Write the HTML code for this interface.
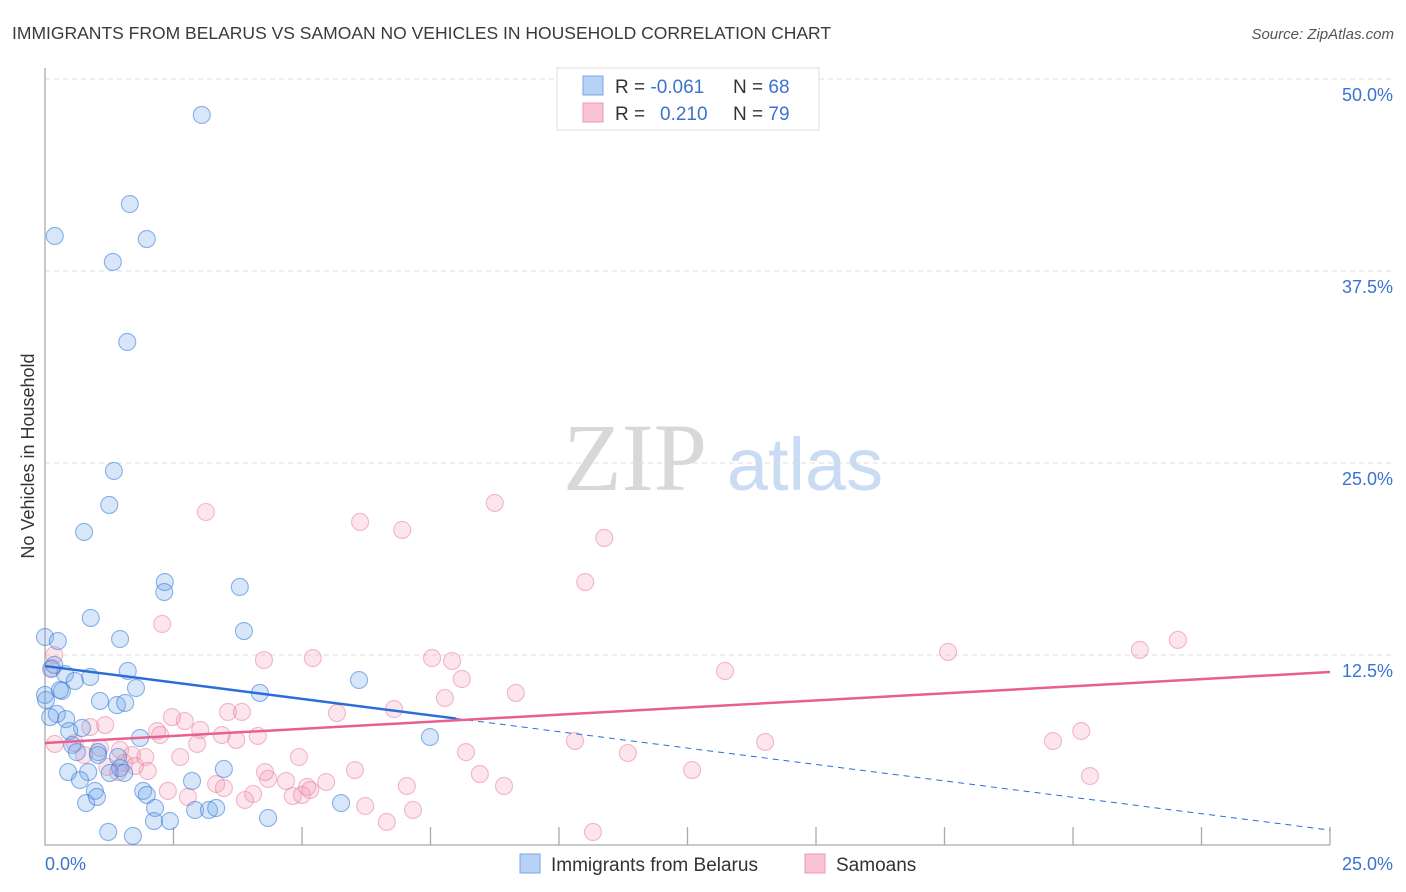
<!DOCTYPE html>
<html><head><meta charset="utf-8"><style>
body{margin:0;background:#fff;font-family:"Liberation Sans",sans-serif;}
#wrap{position:relative;width:1406px;height:892px;overflow:hidden;}
</style></head><body>
<div id="wrap">
<svg id="svg" width="1406" height="892" xmlns="http://www.w3.org/2000/svg">
<text x="12" y="39" font-size="17.5" fill="#3a3a3a">IMMIGRANTS FROM BELARUS VS SAMOAN NO VEHICLES IN HOUSEHOLD CORRELATION CHART</text>
<text x="1394" y="39" font-size="15" fill="#555" font-style="italic" text-anchor="end">Source: ZipAtlas.com</text>
<text x="34" y="456" font-size="18" fill="#333" text-anchor="middle" transform="rotate(-90 34 456)">No Vehicles in Household</text>
<g>
<text x="635" y="490" font-size="96" fill="#d8d8d8" font-family="Liberation Serif,serif" text-anchor="middle">ZIP</text>
<text x="805" y="490" font-size="74" fill="#c9dcf3" text-anchor="middle">atlas</text>
</g>
<g id="grid"></g>
<g id="axes"></g>
<g id="pts"></g>
<g id="trend"></g>
<g>
<rect x="557" y="68" width="262" height="62" fill="#fff" stroke="#ddd"/>
<rect x="583" y="76" width="20" height="19" fill="#b8d2f5" stroke="#7aa6e6"/>
<rect x="583" y="103" width="20" height="19" fill="#f8c4d4" stroke="#ee98b4"/>
<text x="615" y="93" font-size="19" fill="#333">R = <tspan fill="#3b73d0">-0.061</tspan></text>
<text x="733" y="93" font-size="19" fill="#333">N = <tspan fill="#3b73d0">68</tspan></text>
<text x="615" y="120" font-size="19" fill="#333">R = <tspan fill="#3b73d0" x="660">0.210</tspan></text>
<text x="733" y="120" font-size="19" fill="#333">N = <tspan fill="#3b73d0">79</tspan></text>
</g>
<g>
<rect x="520" y="854" width="20" height="19" fill="#b8d2f5" stroke="#7aa6e6"/>
<text x="551" y="871" font-size="19" fill="#333">Immigrants from Belarus</text>
<rect x="805" y="854" width="20" height="19" fill="#f8c4d4" stroke="#ee98b4"/>
<text x="836" y="871" font-size="19" fill="#333">Samoans</text>
</g>
</svg>
</div>
<script>
const xTicks=[0,2.5,5,7.5,10,12.5,15,17.5,20,22.5,25];
const yTicks=[12.5,25,37.5,50];
const yTickLabels=["12.5%","25.0%","37.5%","50.0%"];
const xEndLabels=["0.0%","25.0%"];
const blueX=[3.05,0.19,1.65,1.98,1.32,1.60,1.34,1.25,0.76,2.33,2.32,3.79,0.89,3.87,1.46,0,0.25,0.12,0.39,0.58,0.88,1.61,1.77,0.33,0,4.18,6.11,1.07,1.40,1.56,0.23,0.41,0.10,0.72,0.47,1.85,0.53,1.03,0.62,1.03,7.49,1.42,1.46,1.26,1.54,0.45,0.84,3.48,0.68,2.86,1.91,0.97,1.98,0.80,1.01,2.14,2.92,3.19,3.33,2.43,2.12,5.76,4.34,1.23,1.71,0.18,0.29,0.02];
const blueY=[47.66,39.78,41.86,39.58,38.09,32.88,24.48,22.27,20.51,17.25,16.60,16.93,14.91,14.06,13.54,13.67,13.41,11.59,11.26,10.81,11.07,11.46,10.35,10.16,9.90,10.03,10.87,9.51,9.24,9.38,8.66,8.33,8.46,7.75,7.55,7.10,6.64,6.18,6.18,5.99,7.16,5.86,5.14,4.82,4.82,4.88,4.88,5.08,4.36,4.30,3.65,3.65,3.39,2.86,3.26,2.54,2.41,2.41,2.54,1.69,1.69,2.86,1.89,0.98,0.72,11.85,10.22,9.57];
const pinkX=[3.13,6.13,6.95,8.75,10.88,10.51,2.28,4.26,5.21,7.53,7.92,8.11,7.78,9.16,13.23,17.57,21.30,22.04,0.18,0.14,6.79,5.68,3.83,3.56,2.72,2.47,2.18,1.17,0.88,3.44,3.72,4.14,2.96,2.63,1.95,1.46,1.69,1.07,0.58,0.19,8.19,4.94,6.03,8.46,8.93,11.34,10.31,12.59,14.01,19.61,20.16,20.33,2.00,1.54,1.21,1.75,4.34,4.69,5.47,5.10,4.05,3.89,4.82,5.00,3.33,3.48,2.39,2.78,7.04,6.23,7.16,6.65,10.66,1.42,0.76,2.24,3.02,4.28,5.16];
const pinkY=[21.81,21.16,20.64,22.40,20.12,17.25,14.52,12.17,12.30,12.30,12.11,10.94,9.70,10.03,11.46,12.70,12.83,13.48,12.50,11.65,8.98,8.72,8.79,8.79,8.20,8.46,7.55,7.94,7.81,7.29,6.97,7.23,6.71,5.86,5.86,6.32,5.99,6.45,6.77,6.71,6.18,5.86,5.01,4.75,3.97,6.12,6.90,5.01,6.84,6.90,7.55,4.62,4.95,5.47,5.21,5.27,4.43,4.30,4.23,3.91,3.45,3.06,3.32,3.39,4.10,3.84,3.65,3.26,3.97,2.67,2.41,1.63,0.98,4.88,5.99,7.29,7.62,4.88,3.71];
const blueTrend=[11.78,1.1];
const blueSolidEnd=8.0;
const pinkTrend=[6.77,11.39];

const X0=45,X1=1330,Y0=847,PPY=15.36;
const sx=v=>X0+(X1-X0)*v/25;
const sy=v=>Y0-v*PPY;
const NS="http://www.w3.org/2000/svg";
function mk(tag,attrs,parent){const e=document.createElementNS(NS,tag);for(const k in attrs)e.setAttribute(k,attrs[k]);parent.appendChild(e);return e;}
const grid=document.getElementById('grid'),axes=document.getElementById('axes'),pts=document.getElementById('pts'),trend=document.getElementById('trend');
yTicks.forEach((t,i)=>{
 const l=mk('line',{x1:X0,x2:1394,y1:sy(t),y2:sy(t),stroke:'#dcdcdc','stroke-dasharray':'5,4'},grid);
 
 
 const tx=mk('text',{x:1393,y:sy(t)+22,'font-size':18,fill:'#3b73d0','text-anchor':'end'},axes);
 tx.textContent=yTickLabels[i];
 
 
});
const ax=mk('path',{d:`M${X0} 68 V845 H${X1}`,fill:'none',stroke:'#aaa','stroke-width':1.3},axes);


xTicks.forEach(t=>{if(t===0)return;const tk=mk('line',{x1:sx(t),x2:sx(t),y1:827,y2:845,stroke:'#aaa','stroke-width':1.3},axes);
 
 });
const xl0=mk('text',{x:45,y:870,'font-size':18,fill:'#3b73d0'},axes);xl0.textContent=xEndLabels[0];


const xl1=mk('text',{x:1393,y:870,'font-size':18,fill:'#3b73d0','text-anchor':'end'},axes);xl1.textContent=xEndLabels[1];


function dots(xs,ys,fill,stroke,name){xs.forEach((x,i)=>{const c=mk('circle',{cx:sx(x),cy:sy(ys[i]),r:8.5,fill:fill,stroke:stroke,'stroke-width':1.1},pts);
 
 });}
dots(pinkX,pinkY,'rgba(244,150,180,0.25)','rgba(232,120,156,0.5)','samoan-point');
dots(blueX,blueY,'rgba(110,165,232,0.28)','rgba(50,120,215,0.55)','belarus-point');
const by=x=>blueTrend[0]+(blueTrend[1]-blueTrend[0])*x/25;
const b1=mk('line',{x1:sx(0),y1:sy(by(0)),x2:sx(blueSolidEnd),y2:sy(by(blueSolidEnd)),stroke:'#2a6dd9','stroke-width':2.5},trend);


const b2=mk('line',{x1:sx(blueSolidEnd),y1:sy(by(blueSolidEnd)),x2:sx(25),y2:sy(by(25)),stroke:'#2a6dd9','stroke-width':1,'stroke-dasharray':'6,5'},trend);


const p1=mk('line',{x1:sx(0),y1:sy(pinkTrend[0]),x2:sx(25),y2:sy(pinkTrend[1]),stroke:'#e8608f','stroke-width':2.5},trend);


</script>
</body></html>
